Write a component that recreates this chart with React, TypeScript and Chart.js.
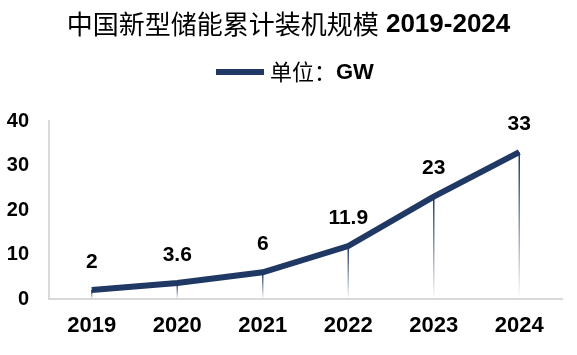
import React, { useEffect, useRef } from "react";
import { Chart, registerables } from "chart.js";

Chart.register(...registerables);

const categories = ["2019", "2020", "2021", "2022", "2023", "2024"];
const capacity = [2, 3.6, 6, 11.9, 23, 33];
const valueLabels = ["2", "3.6", "6", "11.9", "23", "33"];
const yTicks = [0, 10, 20, 30, 40];
const titleCn = "中国新型储能累计装机规模";
const titleYears = "2019-2024";
const legendCn = "单位：";
const legendEn = "GW";

const NAVY = "#203864";
const LATIN = "'Liberation Sans', Arial, sans-serif";
const CJK = "'Noto Sans CJK SC', sans-serif";

const dropLinePlugin = {
  id: "dropLines",
  beforeDatasetsDraw(chart: any) {
    const { ctx } = chart;
    const meta = chart.getDatasetMeta(0);
    const yScale = chart.scales.y;
    const base = yScale.getPixelForValue(0);
    ctx.save();
    meta.data.forEach((pt: any) => {
      const g = ctx.createLinearGradient(0, pt.y, 0, base);
      g.addColorStop(0, "rgba(32,56,100,1)");
      g.addColorStop(1, "rgba(32,56,100,0)");
      ctx.strokeStyle = g;
      ctx.lineWidth = 1.5;
      ctx.beginPath();
      ctx.moveTo(pt.x, pt.y);
      ctx.lineTo(pt.x, base);
      ctx.stroke();
    });
    ctx.restore();
  },
};

const labelPlugin = {
  id: "valueLabels",
  afterDatasetsDraw(chart: any) {
    const { ctx } = chart;
    const meta = chart.getDatasetMeta(0);
    ctx.save();
    ctx.font = `bold 21px ${LATIN}`;
    ctx.fillStyle = "#000";
    ctx.textAlign = "center";
    ctx.textBaseline = "middle";
    meta.data.forEach((pt: any, i: number) => {
      ctx.fillText(valueLabels[i], pt.x, pt.y - 28);
    });
    ctx.restore();
  },
};

const headerPlugin = {
  id: "header",
  afterDraw(chart: any) {
    const { ctx } = chart;
    ctx.save();
    ctx.fillStyle = "#000";
    ctx.textBaseline = "middle";
    ctx.textAlign = "left";
    // title
    const cnFont = `400 26px ${CJK}`;
    const enFont = `bold 26px ${LATIN}`;
    ctx.font = cnFont;
    const wCn = ctx.measureText(titleCn).width;
    ctx.font = enFont;
    const wSp = ctx.measureText(" ").width;
    const wEn = ctx.measureText(titleYears).width;
    const total = wCn + wSp + wEn;
    const x0 = chart.width / 2 - total / 2;
    const ty = 24;
    ctx.font = cnFont;
    ctx.fillText(titleCn, x0, ty);
    ctx.font = enFont;
    ctx.fillText(titleYears, x0 + wCn + wSp, ty + 1);
    // legend
    const ly = 72;
    const lx = 216;
    ctx.fillStyle = NAVY;
    ctx.fillRect(lx, ly - 3, 48, 6);
    ctx.fillStyle = "#000";
    const lcFont = `400 22px ${CJK}`;
    const leFont = `bold 22px ${LATIN}`;
    ctx.font = lcFont;
    const wl = ctx.measureText(legendCn).width;
    ctx.fillText(legendCn, lx + 54, ly);
    ctx.font = leFont;
    ctx.fillText(legendEn, lx + 54 + wl, ly + 1);
    ctx.restore();
  },
};

export default function App() {
  const ref = useRef<HTMLCanvasElement>(null);
  useEffect(() => {
    if (!ref.current) return;
    const chart = new Chart(ref.current, {
      type: "line",
      data: {
        labels: categories,
        datasets: [
          {
            label: legendCn + legendEn,
            data: capacity,
            borderColor: NAVY,
            backgroundColor: NAVY,
            borderWidth: 6,
            pointRadius: 0,
            fill: false,
            tension: 0,
          },
        ],
      },
      options: {
        responsive: false,
        animation: false,
        layout: { padding: { left: 7, right: 15, top: 121, bottom: 16 } },
        plugins: {
          title: { display: false },
          legend: { display: false },
          tooltip: { enabled: false },
        },
        scales: {
          x: {
            offset: true,
            afterFit: (axis: any) => {
              axis.height = 40;
            },
            grid: { display: false, drawTicks: false },
            border: { display: true, color: "#d9d9d9", width: 2 },
            ticks: {
              color: "#000",
              padding: 14,
              font: { size: 22, weight: "bold", family: LATIN },
            },
          },
          y: {
            min: 0,
            max: 40,
            afterBuildTicks: (axis: any) => {
              axis.ticks = yTicks.map((v) => ({ value: v }));
            },
            afterFit: (axis: any) => {
              axis.width = 42;
            },
            grid: { display: false, drawTicks: false },
            border: { display: true, color: "#d9d9d9", width: 2 },
            ticks: {
              color: "#000",
              padding: 20,
              font: { size: 20, weight: "bold", family: LATIN },
            },
          },
        },
      },
      plugins: [dropLinePlugin, labelPlugin, headerPlugin],
    });
    return () => chart.destroy();
  }, []);
  return (
    <div style={{ position: "absolute", left: 0, top: 0, width: 577, height: 355, background: "#fff" }}>
      <canvas ref={ref} width={577} height={355} style={{ display: "block" }} />
    </div>
  );
}
